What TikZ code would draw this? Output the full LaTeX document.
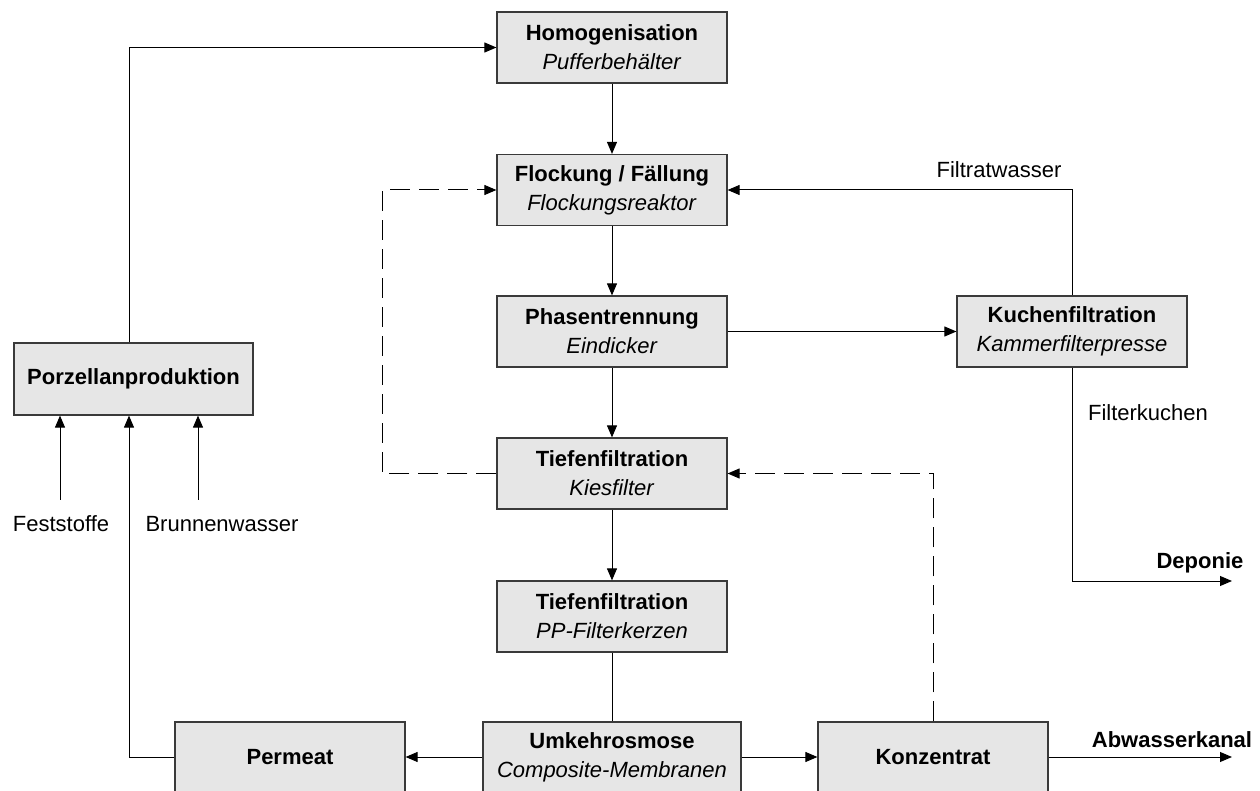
\documentclass[tikz,border=0pt]{standalone}
\usepackage{fontspec}
\setmainfont{Liberation Sans}
\usetikzlibrary{arrows.meta}
\definecolor{boxfill}{HTML}{E6E6E6}
\definecolor{boxline}{HTML}{3A3A3A}
\begin{document}
\begin{tikzpicture}[x=0.5pt,y=-0.5pt,
  box/.style={draw=boxline, fill=boxfill, line width=0.6pt, minimum width=115pt, minimum height=35.5pt, align=center, inner sep=0pt, font=\fontsize{11}{14.5}\selectfont},
  flow/.style={line width=0.5pt, -{Triangle[length=6pt,width=5pt]}},
  plain/.style={line width=0.5pt},
  dashflow/.style={line width=0.5pt, dash pattern=on 10pt off 4.5pt, -{Triangle[length=6pt,width=5pt]}},
  lab/.style={font=\fontsize{11}{13}\selectfont, inner sep=0pt},
  blab/.style={font=\fontsize{11}{13}\selectfont\bfseries, inner sep=0pt}]
\useasboundingbox (0,0) rectangle (1260,791);

\node[box] (hom) at (612,47.5) {\textbf{Homogenisation}\\\textit{Pufferbehälter}};
\node[box] (floc) at (612,190) {\textbf{Flockung / Fällung}\\\textit{Flockungsreaktor}};
\node[box] (phas) at (612,331.5) {\textbf{Phasentrennung}\\\textit{Eindicker}};
\node[box] (kies) at (612,473.5) {\textbf{Tiefenfiltration}\\\textit{Kiesfilter}};
\node[box] (pp) at (612,616.5) {\textbf{Tiefenfiltration}\\\textit{PP-Filterkerzen}};
\node[box] (kuch) at (1072,331.5) {\textbf{Kuchenfiltration}\\\textit{Kammerfilterpresse}};
\node[box, minimum width=119.5pt, minimum height=36pt] (porz) at (133.5,379) {\textbf{Porzellanproduktion}};
\node[box, minimum height=35pt] (perm) at (290,757) {\textbf{Permeat}};
\node[box, minimum width=129pt, minimum height=35pt] (umk) at (612,757) {\textbf{Umkehrosmose}\\\textit{Composite-Membranen}};
\node[box, minimum height=35pt] (konz) at (933,757) {\textbf{Konzentrat}};

\coordinate (up) at (129,44);
\coordinate (fs) at (60,500);
\coordinate (bw) at (198,500);
\coordinate (dl) at (382,472);
\coordinate (dep) at (1232,581);
\coordinate (abw) at (1232,757);

\node[lab] (lfs) at (61,524) {Feststoffe};
\node[lab] (lbw) at (222,524) {Brunnenwasser};
\node[lab] (lft) at (999,170) {Filtratwasser};
\node[lab] (lfk) at (1148,413) {Filterkuchen};
\node[blab] (ldep) at (1200,563) {Deponie};
\node[blab] (labw) at (1172,740) {Abwasserkanal};

\draw[flow] (porz.north -| up) |- (hom.west);
\draw[flow] (hom) -- (floc);
\draw[flow] (floc) -- (phas);
\draw[flow] (phas) -- (kies);
\draw[flow] (kies) -- (pp);
\draw[plain] (pp) -- (umk);
\draw[flow] (phas) -- (kuch);
\draw[flow] (kuch.north) |- (floc.east);
\draw[flow] (kuch.south) |- (dep);
\draw[flow] (umk) -- (perm);
\draw[flow] (umk) -- (konz);
\draw[flow] (konz) -- (abw);
\draw[flow] (perm.west) -| (porz.south -| up);
\draw[flow] (fs) -- (fs |- porz.south);
\draw[flow] (bw) -- (bw |- porz.south);
\draw[dashflow] (kies.west) -| (dl) |- (floc.west);
\draw[dashflow] (konz.north) |- (kies.east);
\end{tikzpicture}
\end{document}
